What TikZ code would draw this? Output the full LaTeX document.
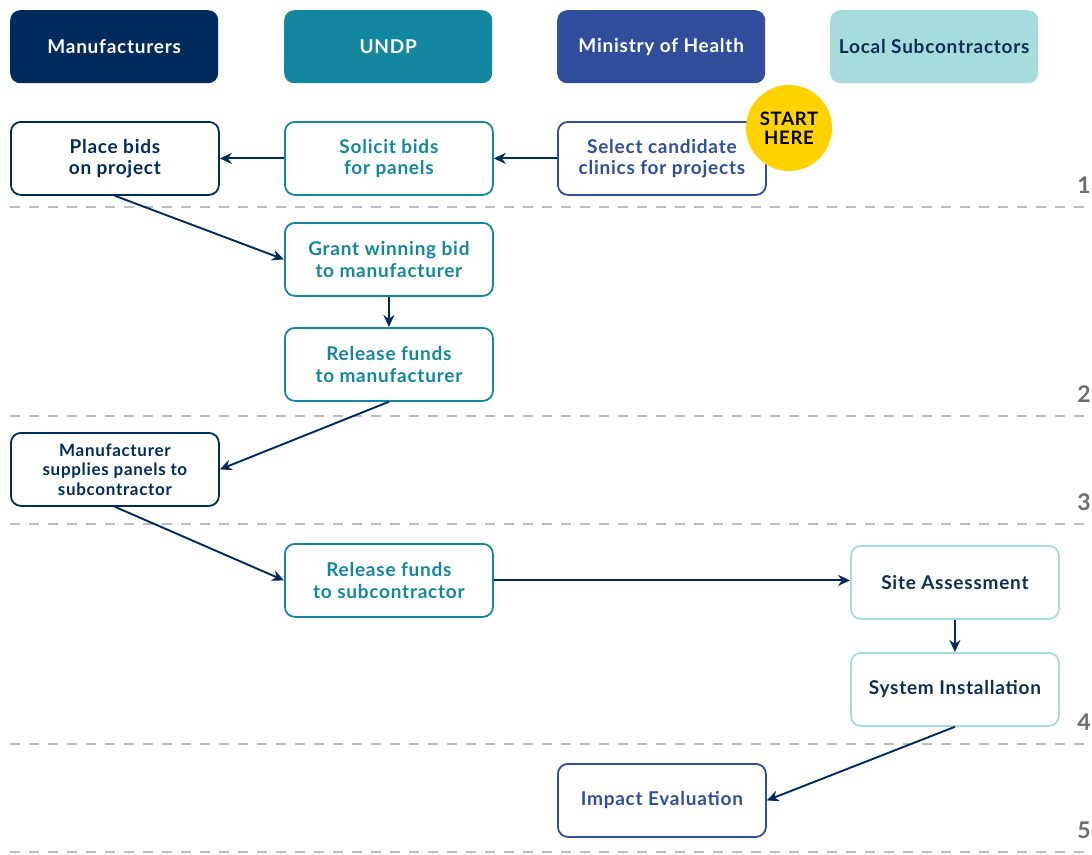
\documentclass[tikz,border=0pt]{standalone}
\usepackage{fontspec}
\setmainfont{Lato}[LetterSpace=4]
\usetikzlibrary{arrows.meta}
\definecolor{navy}{HTML}{002B5C}
\definecolor{teal}{HTML}{13879F}
\definecolor{moh}{HTML}{314E9C}
\definecolor{lsub}{HTML}{A6DCDB}
\definecolor{lsubtxt}{HTML}{0E2C5A}
\definecolor{startyel}{HTML}{FFD200}
\definecolor{dashgray}{HTML}{BDBDBD}
\definecolor{numgray}{HTML}{6E6E6E}
\tikzset{
  base/.style={rounded corners=10pt, minimum width=208pt, minimum height=73pt, inner sep=0pt, anchor=north west, align=center, font=\fontsize{19}{21.5}\selectfont\bfseries},
  head/.style={base, fill=#1},
  stepbox/.style={base, draw=#1, line width=1.8pt, fill=white},
  conn/.style={draw=navy, line width=1.9pt, -{Stealth[length=12pt,width=11pt]}},
  sep/.style={draw=dashgray, line width=1.2pt, dash pattern=on 10pt off 9pt},
  num/.style={anchor=east, text=numgray, font=\fontsize{23}{25}\selectfont\bfseries, inner sep=0pt}
}
\begin{document}
\begin{tikzpicture}[x=1pt,y=-1pt]
\useasboundingbox (0,0) rectangle (1092,854);
% headers
\node[head=navy, text=white] (hman) at (10,10) {Manufacturers};
\node[head=teal, text=white] (hundp) at (284,10) {UNDP};
\node[head=moh, text=white] (hmoh) at (557,10) {Ministry of Health};
\node[head=lsub, text=lsubtxt] (hloc) at (830,10) {Local Subcontractors};
% separators
\coordinate (d1a) at (10,207); \coordinate (d1b) at (1092,207);
\coordinate (d2a) at (10,416); \coordinate (d2b) at (1092,416);
\coordinate (d3a) at (10,524); \coordinate (d3b) at (1092,524);
\coordinate (d4a) at (10,744); \coordinate (d4b) at (1092,744);
\coordinate (d5a) at (10,852); \coordinate (d5b) at (1092,852);
\draw[sep] (d1a) -- (d1b);
\draw[sep] (d2a) -- (d2b);
\draw[sep] (d3a) -- (d3b);
\draw[sep] (d4a) -- (d4b);
\draw[sep] (d5a) -- (d5b);
\node[num] (n1) at (1091,185) {1};
\node[num] (n2) at (1091,394) {2};
\node[num] (n3) at (1091,502) {3};
\node[num] (n4) at (1091,722) {4};
\node[num] (n5) at (1091,830) {5};
% steps
\node[stepbox=navy, text=navy] (place) at (10,121) {Place bids\\on project};
\node[stepbox=teal, text=teal] (solicit) at (284,121) {Solicit bids\\for panels};
\node[stepbox=moh, text=moh] (select) at (557,121) {Select candidate\\clinics for projects};
\node[circle, fill=startyel, minimum size=86pt, inner sep=0pt, align=center, font=\fontsize{18.5}{19}\selectfont\bfseries, text=black] (start) at (789,128) {START\\HERE};
\node[stepbox=teal, text=teal] (grant) at (284,222) {Grant winning bid\\to manufacturer};
\node[stepbox=teal, text=teal] (relman) at (284,327) {Release funds\\to manufacturer};
\node[stepbox=navy, text=navy, font=\fontsize{17}{19.5}\selectfont\bfseries] (supply) at (10,432) {Manufacturer\\supplies panels to\\subcontractor};
\node[stepbox=teal, text=teal] (relsub) at (284,543) {Release funds\\to subcontractor};
\node[stepbox=lsub, text=lsubtxt] (site) at (850,545) {Site Assessment};
\node[stepbox=lsub, text=lsubtxt] (inst) at (850,652) {System Installation};
\node[stepbox=moh, text=moh] (impact) at (557,763) {Impact Evaluation};
% connectors
\draw[conn] (solicit.west) -- (place.east);
\draw[conn] (select.west) -- (solicit.east);
\draw[conn] (place.south) -- (grant.west);
\draw[conn] (grant.south) -- (relman.north);
\draw[conn] (relman.south) -- (supply.east);
\draw[conn] (supply.south) -- (relsub.west);
\draw[conn] (relsub.east) -- (relsub.east -| site.west);
\draw[conn] (site.south) -- (inst.north);
\draw[conn] (inst.south) -- (impact.east);
\end{tikzpicture}
\end{document}
